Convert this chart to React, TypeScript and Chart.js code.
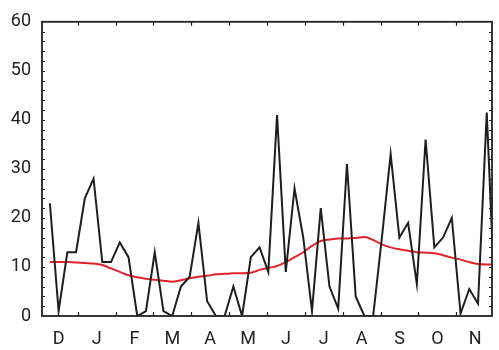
import { useEffect, useRef } from "react";
import { Chart, registerables } from "chart.js";

Chart.register(...registerables);

// Month labels (axis runs December -> November)
const monthLabels = ["D", "J", "F", "M", "A", "M", "J", "J", "A", "S", "O", "N"];

// Weekly observed values (black line)
const weeklyValues = [
  23, 1, 13, 13, 24, 28, 11, 11, 15, 12,
  0, 1, 13, 1, 0, 6, 8, 19, 3, 0,
  0, 6, 0, 12, 14, 9, 41, 9, 26, 16,
  1, 22, 6, 1.5, 31, 4, 0, 0, 16, 33,
  16, 19, 6.5, 36, 14, 16, 20, 0.5, 5.5, 2.5,
  41.5, 0,
];

// Smoothed curve (red line)
const smoothValues = [
  11.0, 11.0, 11.0, 10.9, 10.8, 10.7, 10.4, 9.7, 9.0, 8.3,
  7.9, 7.6, 7.4, 7.2, 7.0, 7.3, 7.7, 8.0, 8.2, 8.5,
  8.6, 8.7, 8.7, 8.8, 9.4, 9.8, 10.2, 11.0, 12.0, 13.0,
  14.3, 15.3, 15.6, 15.8, 15.8, 15.9, 16.1, 15.5, 14.6, 14.0,
  13.6, 13.3, 13.0, 12.9, 12.8, 12.4, 11.9, 11.5, 11.0, 10.6,
  10.5, 10.5,
];

const yTickValues = [0, 10, 20, 30, 40, 50, 60];

const WEEKS_PER_MONTH = 52 / 12;
const FIRST_WEEK = 1.15;
const X_MIN = 0.25;
const X_MAX = 51.75;

const INK = "#222222";

const framePlugin = {
  id: "frameTicks",
  afterDatasetsDraw(chart: any) {
    const { ctx, chartArea: a, scales } = chart;
    const xs = scales.x;
    const ys = scales.y;
    ctx.save();
    ctx.strokeStyle = INK;
    ctx.lineWidth = 1.8;
    ctx.strokeRect(a.left, a.top, a.right - a.left, a.bottom - a.top);
    ctx.lineWidth = 1.2;
    ctx.beginPath();
    for (let v = 2; v < 60; v += 2) {
      const py = Math.round(ys.getPixelForValue(v)) + 0.5;
      ctx.moveTo(a.left, py);
      ctx.lineTo(a.left + 3, py);
      ctx.moveTo(a.right, py);
      ctx.lineTo(a.right - 3, py);
    }
    for (let k = 1; k < 12; k++) {
      const px = Math.round(xs.getPixelForValue(k * WEEKS_PER_MONTH)) + 0.5;
      ctx.moveTo(px, a.bottom);
      ctx.lineTo(px, a.bottom - 4);
      ctx.moveTo(px, a.top);
      ctx.lineTo(px, a.top + 4);
    }
    ctx.stroke();
    ctx.restore();
  },
};

export default function App() {
  const ref = useRef<HTMLCanvasElement | null>(null);

  useEffect(() => {
    document.body.style.margin = "0";
    document.body.style.overflow = "hidden";
    const canvas = ref.current;
    if (!canvas) return;
    const blackData = weeklyValues.map((v, i) => ({ x: i + FIRST_WEEK, y: v }));
    const redData = smoothValues.map((v, i) => ({ x: i + FIRST_WEEK, y: v }));
    const font = { family: "Roboto, 'DejaVu Sans', sans-serif", size: 18 };
    const chart = new Chart(canvas, {
      type: "line",
      data: {
        datasets: [
          {
            data: redData,
            borderColor: "#e3232b",
            borderWidth: 2,
            pointRadius: 0,
            tension: 0.4,
            cubicInterpolationMode: "monotone",
            clip: 0,
            order: 2,
          },
          {
            data: blackData,
            borderColor: "#1e1e1e",
            borderWidth: 2,
            pointRadius: 0,
            tension: 0,
            clip: 0,
            order: 1,
          },
        ],
      },
      options: {
        animation: false,
        responsive: false,
        layout: { padding: { top: 15, right: 7, left: 0, bottom: 0 } },
        plugins: { legend: { display: false }, tooltip: { enabled: false } },
        scales: {
          x: {
            type: "linear",
            min: X_MIN,
            max: X_MAX,
            grid: { display: false, drawTicks: false },
            border: { display: false },
            afterBuildTicks: (scale: any) => {
              scale.ticks = monthLabels.map((_, k) => ({ value: (k + 0.5) * WEEKS_PER_MONTH }));
            },
            afterFit: (scale: any) => {
              scale.height = 34;
            },
            ticks: {
              autoSkip: false,
              maxRotation: 0,
              minRotation: 0,
              padding: 13,
              color: INK,
              font,
              callback: (_v: any, index: number) => monthLabels[index],
            },
          },
          y: {
            type: "linear",
            min: 0,
            max: 60,
            grid: { display: false, drawTicks: false },
            border: { display: false },
            afterBuildTicks: (scale: any) => {
              scale.ticks = yTickValues.map((v) => ({ value: v }));
            },
            afterFit: (scale: any) => {
              scale.width = 42;
            },
            ticks: {
              padding: 11,
              color: INK,
              font,
              callback: (v: any) => String(v),
            },
          },
        },
      },
      plugins: [framePlugin],
    });
    return () => chart.destroy();
  }, []);

  return (
    <div style={{ width: 499, height: 350 }}>
      <canvas ref={ref} width={499} height={350} style={{ display: "block" }} />
    </div>
  );
}
